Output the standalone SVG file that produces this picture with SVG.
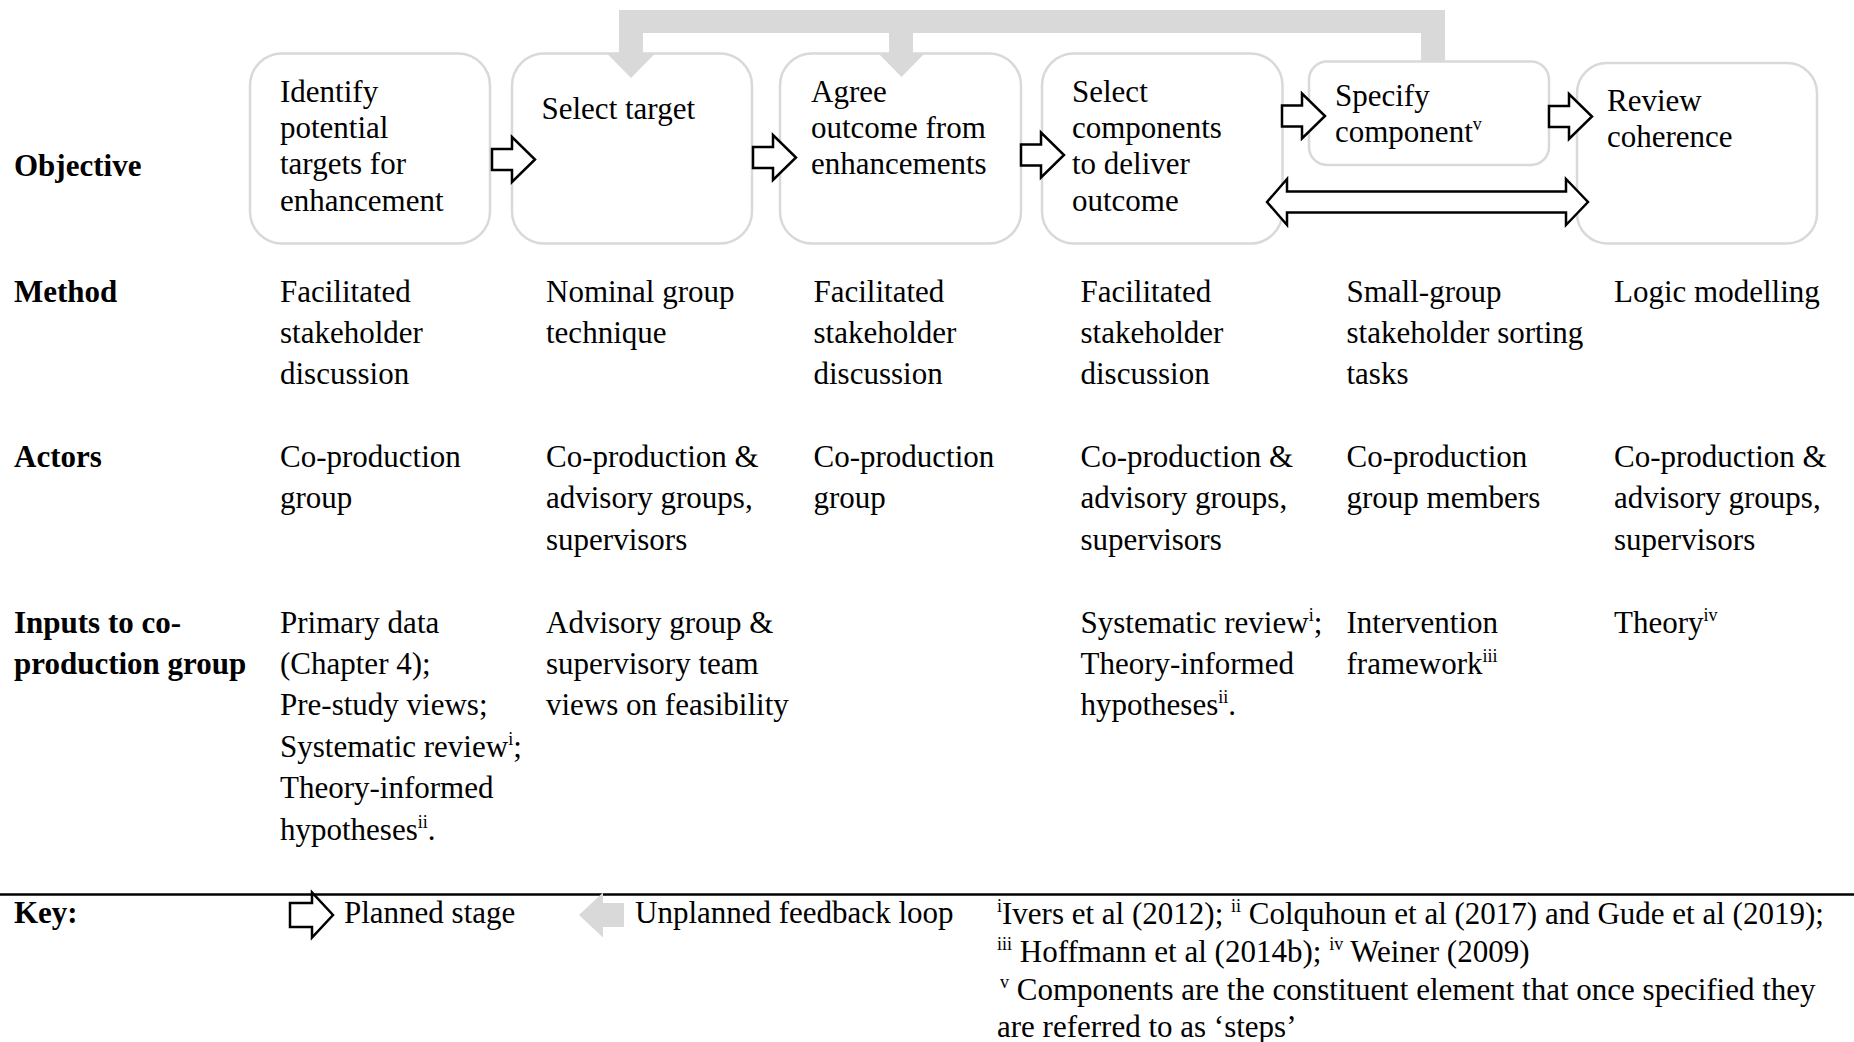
<svg xmlns="http://www.w3.org/2000/svg" width="1854" height="1042" viewBox="0 0 1854 1042">
  <style>
    .t { font-family: "Liberation Serif", "Times New Roman", serif; font-size: 31px; fill: #000; }
    .b { font-weight: bold; }
    .sup { font-size: 18px; }
    .box { fill: #fff; stroke: #d9d9d9; stroke-width: 2.5; }
    .plan { fill: #fff; stroke: #000; stroke-width: 2.5; stroke-linejoin: miter; }
    .loop { fill: #d9d9d9; stroke: none; }
  </style>
  <defs>
    <!-- outlined block arrow, tail at the origin, pointing right -->
    <path id="planned" d="M0,-10.5 H20 V-22.5 L43,0 L20,22.5 V10.5 H0 Z"/>
  </defs>

  <rect width="1854" height="1042" fill="#fff"/>

  <!-- stage boxes -->
  <g id="stage-identify">
    <rect class="box" x="250" y="53.5" width="240" height="190" rx="32"/>
    <text class="t" x="280" y="101.7"><tspan x="280">Identify</tspan><tspan x="280" dy="36.3">potential</tspan><tspan x="280" dy="36.3">targets for</tspan><tspan x="280" dy="36.3">enhancement</tspan></text>
  </g>
  <g id="stage-select-target">
    <rect class="box" x="512" y="53.5" width="240" height="190" rx="32"/>
    <text class="t" x="541.5" y="119.4">Select target</text>
  </g>
  <g id="stage-agree-outcome">
    <rect class="box" x="780" y="53.5" width="241" height="190" rx="32"/>
    <text class="t" x="811" y="101.7"><tspan x="811">Agree</tspan><tspan x="811" dy="36.3">outcome from</tspan><tspan x="811" dy="36.3">enhancements</tspan></text>
  </g>
  <g id="stage-select-components">
    <rect class="box" x="1042" y="53.5" width="240.5" height="190" rx="32"/>
    <text class="t" x="1072" y="101.7"><tspan x="1072">Select</tspan><tspan x="1072" dy="36.3">components</tspan><tspan x="1072" dy="36.3">to deliver</tspan><tspan x="1072" dy="36.3">outcome</tspan></text>
  </g>
  <g id="stage-specify-component">
    <rect class="box" x="1309" y="61.5" width="240" height="103.5" rx="18"/>
    <text class="t" x="1335" y="106"><tspan x="1335">Specify</tspan><tspan x="1335" dy="36">component</tspan><tspan class="sup" dy="-12">v</tspan></text>
  </g>
  <g id="stage-review-coherence">
    <rect class="box" x="1577" y="63" width="240" height="180.5" rx="30"/>
    <text class="t" x="1607" y="111"><tspan x="1607">Review</tspan><tspan x="1607" dy="36">coherence</tspan></text>
  </g>

  <!-- connectors: planned stages and the unplanned feedback loop -->
  <g id="connectors">
    <path class="loop" d="M619,10 H1445 V62 H1421 V33 H913 V53 H925 L901.5,77 L878,53 H889 V33 H643 V53 H655.5 L631,78 L606.5,53 H619 Z"/>
    <use href="#planned" class="plan" transform="translate(492,159.5)"/>
    <use href="#planned" class="plan" transform="translate(753,157.5)"/>
    <use href="#planned" class="plan" transform="translate(1021,155)"/>
    <use href="#planned" class="plan" transform="translate(1282,116)"/>
    <use href="#planned" class="plan" transform="translate(1549,116.5)"/>
    <path class="plan" d="M1267,202 L1287,179 V191.5 H1566 V179 L1588,202 L1566,225 V212.5 H1287 V225 Z"/>
  </g>

  <!-- row headings -->
  <g id="row-labels">
    <text class="t b" x="14" y="176">Objective</text>
    <text class="t b" x="14" y="301.5">Method</text>
    <text class="t b" x="14" y="467">Actors</text>
    <text class="t b" x="14" y="632.6"><tspan x="14">Inputs to co-</tspan><tspan x="14" dy="41.3">production group</tspan></text>
  </g>

  <!-- method row -->
  <g id="method-row">
    <text class="t" y="301.5"><tspan x="280">Facilitated</tspan><tspan x="280" dy="41">stakeholder</tspan><tspan x="280" dy="41">discussion</tspan></text>
    <text class="t" y="301.5"><tspan x="546">Nominal group</tspan><tspan x="546" dy="41">technique</tspan></text>
    <text class="t" y="301.5"><tspan x="813.5">Facilitated</tspan><tspan x="813.5" dy="41">stakeholder</tspan><tspan x="813.5" dy="41">discussion</tspan></text>
    <text class="t" y="301.5"><tspan x="1080.5">Facilitated</tspan><tspan x="1080.5" dy="41">stakeholder</tspan><tspan x="1080.5" dy="41">discussion</tspan></text>
    <text class="t" y="301.5"><tspan x="1346.5">Small-group</tspan><tspan x="1346.5" dy="41">stakeholder sorting</tspan><tspan x="1346.5" dy="41">tasks</tspan></text>
    <text class="t" y="301.5"><tspan x="1614">Logic modelling</tspan></text>
  </g>

  <!-- actors row -->
  <g id="actors-row">
    <text class="t" y="467"><tspan x="280">Co-production</tspan><tspan x="280" dy="41.3">group</tspan></text>
    <text class="t" y="467"><tspan x="546">Co-production &amp;</tspan><tspan x="546" dy="41.3">advisory groups,</tspan><tspan x="546" dy="41.3">supervisors</tspan></text>
    <text class="t" y="467"><tspan x="813.5">Co-production</tspan><tspan x="813.5" dy="41.3">group</tspan></text>
    <text class="t" y="467"><tspan x="1080.5">Co-production &amp;</tspan><tspan x="1080.5" dy="41.3">advisory groups,</tspan><tspan x="1080.5" dy="41.3">supervisors</tspan></text>
    <text class="t" y="467"><tspan x="1346.5">Co-production</tspan><tspan x="1346.5" dy="41.3">group members</tspan></text>
    <text class="t" y="467"><tspan x="1614">Co-production &amp;</tspan><tspan x="1614" dy="41.3">advisory groups,</tspan><tspan x="1614" dy="41.3">supervisors</tspan></text>
  </g>

  <!-- inputs row -->
  <g id="inputs-row">
    <text class="t" y="632.6"><tspan x="280">Primary data</tspan><tspan x="280" dy="41.4">(Chapter 4);</tspan><tspan x="280" dy="41.4">Pre-study views;</tspan><tspan x="280" dy="41.4">Systematic review</tspan><tspan class="sup" dy="-12">i</tspan><tspan dy="12">;</tspan><tspan x="280" dy="41.4">Theory-informed</tspan><tspan x="280" dy="41.4">hypotheses</tspan><tspan class="sup" dy="-12">ii</tspan><tspan dy="12">.</tspan></text>
    <text class="t" y="632.6"><tspan x="546">Advisory group &amp;</tspan><tspan x="546" dy="41.4">supervisory team</tspan><tspan x="546" dy="41.4">views on feasibility</tspan></text>
    <text class="t" y="632.6"><tspan x="1080.5">Systematic review</tspan><tspan class="sup" dy="-12">i</tspan><tspan dy="12">;</tspan><tspan x="1080.5" dy="41.4">Theory-informed</tspan><tspan x="1080.5" dy="41.4">hypotheses</tspan><tspan class="sup" dy="-12">ii</tspan><tspan dy="12">.</tspan></text>
    <text class="t" y="632.6"><tspan x="1346.5">Intervention</tspan><tspan x="1346.5" dy="41.4">framework</tspan><tspan class="sup" dy="-12">iii</tspan></text>
    <text class="t" y="632.6"><tspan x="1614">Theory</tspan><tspan class="sup" dy="-12">iv</tspan></text>
  </g>

  <!-- key and references -->
  <g id="key">
    <line x1="0" y1="894.5" x2="1854" y2="894.5" stroke="#000" stroke-width="2.5"/>
    <text class="t b" x="14" y="923">Key:</text>
    <path class="plan" d="M290,903 H312 V892.5 L333,915 L312,937.5 V927 H290 Z"/>
    <text class="t" x="344" y="923">Planned stage</text>
    <path class="loop" d="M579,915 L603,892.5 V903 H624 V927 H603 V937.5 Z"/>
    <text class="t" x="635" y="923">Unplanned feedback loop</text>
    <text class="t" y="923.5"><tspan x="997" class="sup" dy="-12">i</tspan><tspan dy="12">Ivers et al (2012); </tspan><tspan class="sup" dy="-12">ii</tspan><tspan dy="12"> Colquhoun et al (2017) and Gude et al (2019);</tspan></text>
    <text class="t" y="962"><tspan x="997" class="sup" dy="-12">iii</tspan><tspan dy="12"> Hoffmann et al (2014b); </tspan><tspan class="sup" dy="-12">iv</tspan><tspan dy="12"> Weiner (2009)</tspan></text>
    <text class="t" y="1000"><tspan x="1000" class="sup" dy="-12">v</tspan><tspan dy="12"> Components are the constituent element that once specified they</tspan></text>
    <text class="t" x="997" y="1037">are referred to as ‘steps’</text>
  </g>
</svg>
